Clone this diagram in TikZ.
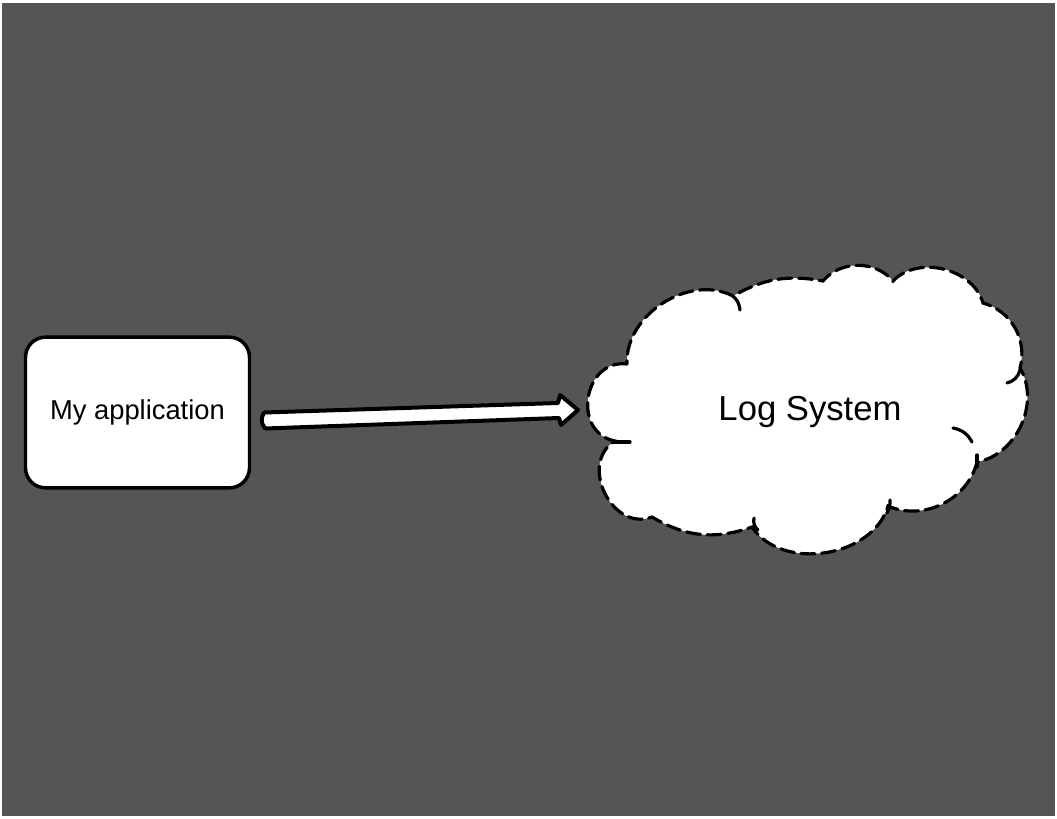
\documentclass[tikz,border=0pt]{standalone}
\usepackage{fontspec}
\setmainfont{Liberation Sans}
\usetikzlibrary{calc}
\definecolor{bggray}{HTML}{555555}
\begin{document}
\begin{tikzpicture}[x=0.75pt,y=-0.75pt,
  box/.style={draw=black,line width=2.6pt,fill=white,rounded corners=15pt,minimum width=168pt,minimum height=113pt,inner sep=0pt},
  smalllbl/.style={font=\fontsize{20.5}{24}\selectfont},
  biglbl/.style={font=\fontsize{26}{30}\selectfont},
  cloudline/.style={draw=black,line width=2.4pt,dash pattern=on 10.5pt off 5pt,line cap=round},
  tick/.style={draw=black,line width=2.4pt,line cap=round},
  arrowbody/.style={draw=black,fill=white,line width=3pt,line join=round}]
\useasboundingbox (0,0) rectangle (1057,818);
\fill[white] (0,0) rectangle (1057,818);
\fill[bggray] (2,3) rectangle (1055,816);
% application box
\node[box,smalllbl] (app) at (137.5,412.5) {My application};
% cloud
\coordinate (P1) at (627,364);
\coordinate (P2) at (615,441);
\coordinate (P3) at (652,517);
\coordinate (P4) at (752,527);
\coordinate (P5) at (888,506);
\coordinate (P6) at (977,462);
\coordinate (P7) at (1020,368);
\coordinate (P8) at (983,303);
\coordinate (P9) at (893,281);
\coordinate (P10) at (823,281);
\coordinate (P11) at (733,296);
\path[fill=white,cloudline] (P1) to[bend right=88,looseness=1.45] (P2) to[bend right=85,looseness=1.3] (P3)
  to[bend right=25] (P4) to[bend right=65] (P5) to[bend right=50] (P6)
  to[bend right=55] (P7) to[bend right=45] (P8) to[bend right=60] (P9)
  to[bend right=50] (P10) to[bend right=20] (P11) to[bend right=60] (P1) -- cycle;
\draw[tick] (733,296) to[bend left=20] (740,310);
\draw[tick] (1007,383) to[bend right=30] (1020,370);
\draw[tick] (953,428) to[bend left=25] (972,442);
\draw[tick] (977,455) -- (977,467);
\draw[tick] (890,500) to[bend left=15] (887,513);
\draw[tick] (754,518) to[bend right=30] (758,530);
\draw[tick] (615,442) -- (630,442);
\node[biglbl] (log) at (810,412) {Log System};
% arrow
\coordinate (a0) at ($(app.east)+(13,8)$);
\coordinate (tip) at (578,410);
\draw[arrowbody] ($(a0)+(0,-8)$) -- (558,403) -- (560,395) -- (tip) -- (561,425) -- (559,418) -- ($(a0)+(1,8)$) to[bend left=40] cycle;
\end{tikzpicture}
\end{document}
